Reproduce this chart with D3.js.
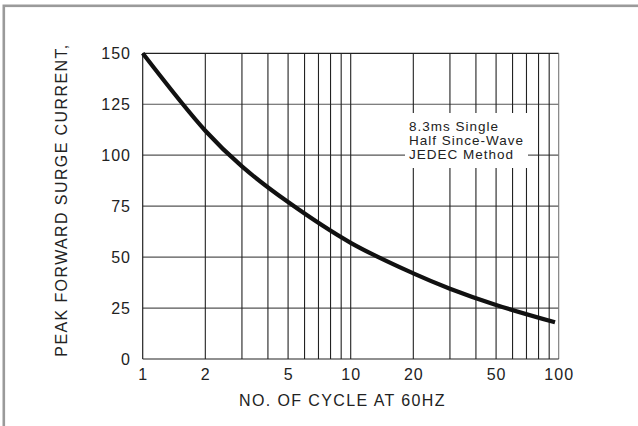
<!DOCTYPE html>
<html>
<head>
<meta charset="utf-8">
<script src="https://cdn.jsdelivr.net/npm/d3@7"></script>
<style>
html,body{margin:0;padding:0;background:#fff;}
svg{display:block;}
text{font-family:"Liberation Sans",Arial,Helvetica,sans-serif;fill:#222;}
</style>
</head>
<body>
<svg id="chart" width="638" height="426"></svg>
<script>
// Data
const cycles = [1, 2, 3, 5, 10, 20, 30, 50, 96];
const current = [150, 112, 94.5, 77, 57, 42, 34.5, 26.5, 18];
const xTickValues = [1, 2, 5, 10, 20, 50, 100];
const xGridValues = [2,3,4,5,6,7,8,9,10,20,30,40,50,60,70,80,90,100];
const yTickValues = [0, 25, 50, 75, 100, 125, 150];
const noteLines = ["8.3ms Single", "Half Since-Wave", "JEDEC Method"];
const xTitle = "NO. OF CYCLE AT 60HZ";
const yTitle = "PEAK FORWARD SURGE CURRENT,";

const svg = d3.select("#chart");
const L = 142.7, R = 558.7, T = 53.3, B = 359;

const x = d3.scaleLog().domain([1, 100]).range([L, R]);
const y = d3.scaleLinear().domain([0, 150]).range([B, T]);

// outer frame
svg.append("rect").attr("x", 3.8).attr("y", 5.8).attr("width", 700).attr("height", 600)
  .attr("fill", "none").attr("stroke", "#9a9a9a").attr("stroke-width", 2.6);

// horizontal grid
svg.append("g").selectAll("line").data(yTickValues.filter(d => d > 0)).join("line")
  .attr("x1", L).attr("x2", R).attr("y1", d => y(d)).attr("y2", d => y(d))
  .attr("stroke", d => d === 150 ? "#222" : "#555").attr("stroke-width", 1.2);

// vertical grid
svg.append("g").selectAll("line").data(xGridValues).join("line")
  .attr("x1", d => x(d)).attr("x2", d => x(d)).attr("y1", T).attr("y2", B)
  .attr("stroke", d => d === 100 ? "#777" : "#222").attr("stroke-width", 1.1);

// axes lines (left, bottom)
svg.append("line").attr("x1", L).attr("x2", L).attr("y1", T).attr("y2", B)
  .attr("stroke", "#222").attr("stroke-width", 1.2);
svg.append("line").attr("x1", L).attr("x2", R).attr("y1", B).attr("y2", B)
  .attr("stroke", "#222").attr("stroke-width", 1.2);

// annotation box (white, interrupts grid)
svg.append("rect").attr("x", 405).attr("y", 113).attr("width", 123).attr("height", 55)
  .attr("fill", "#fff");
svg.append("g").selectAll("text").data(noteLines).join("text")
  .attr("x", 409).attr("y", (d, i) => 131 + i * 13.8)
  .attr("font-size", 13.5).attr("letter-spacing", 1)
  .text(d => d);

// curve
const line = d3.line().x(d => x(d[0])).y(d => y(d[1])).curve(d3.curveCatmullRom.alpha(0.5));
svg.append("path").datum(cycles.map((c, i) => [c, current[i]]))
  .attr("d", line).attr("fill", "none").attr("stroke", "#111")
  .attr("stroke-width", 4.2).attr("stroke-linecap", "butt");

// y tick labels
svg.append("g").selectAll("text").data(yTickValues).join("text")
  .attr("x", 131).attr("y", d => y(d)).attr("dy", "0.36em")
  .attr("text-anchor", "end").attr("font-size", 16).attr("letter-spacing", 1)
  .text(d => d);

// x tick labels
svg.append("g").selectAll("text").data(xTickValues).join("text")
  .attr("x", d => x(d) + 0.5).attr("y", 380)
  .attr("text-anchor", "middle").attr("font-size", 16).attr("letter-spacing", 1)
  .text(d => d);

// titles
svg.append("text").attr("x", 342.5).attr("y", 405.5)
  .attr("text-anchor", "middle").attr("font-size", 16).attr("letter-spacing", 1.4)
  .text(xTitle);
svg.append("text").attr("transform", "translate(67,200) rotate(-90)")
  .attr("text-anchor", "middle").attr("font-size", 16).attr("letter-spacing", 1.4)
  .text(yTitle);
</script>
</body>
</html>
